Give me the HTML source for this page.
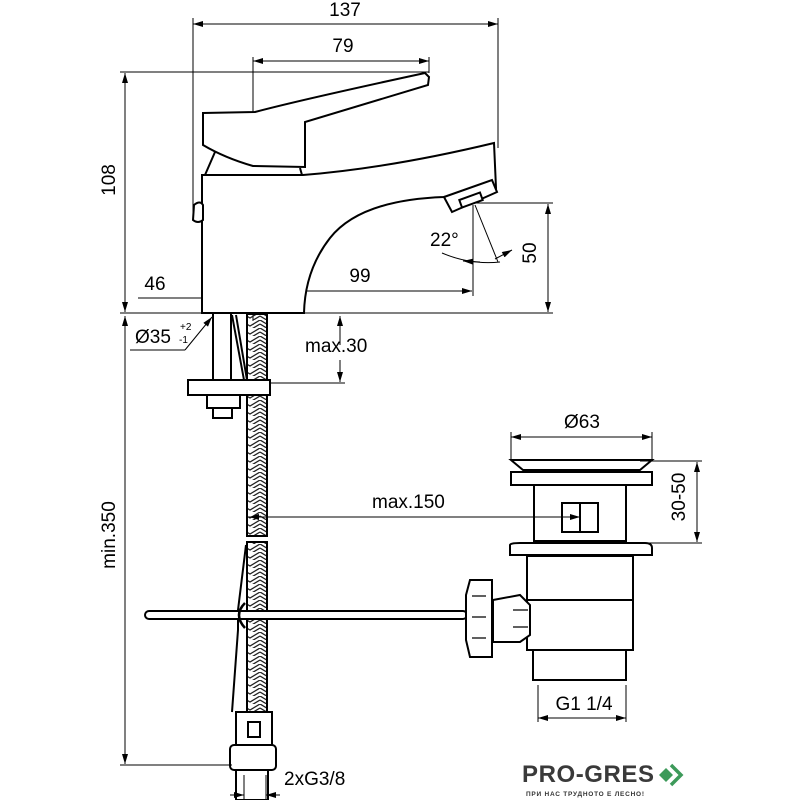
<!DOCTYPE html>
<html><head><style>body{margin:0;background:#fff}svg{display:block}text{font-family:"Liberation Sans",sans-serif;fill:#000}</style></head><body>
<svg width="800" height="800" viewBox="0 0 800 800" xmlns="http://www.w3.org/2000/svg">
<defs>
<marker id="a" viewBox="0 0 10 6" refX="10" refY="3" markerWidth="14" markerHeight="6" markerUnits="userSpaceOnUse" orient="auto-start-reverse"><path d="M0,0L10,3L0,6z" fill="#000"/></marker>
<pattern id="h" width="20" height="8" patternUnits="userSpaceOnUse"><path d="M0,0L10,6L20,0M0,4L10,10L20,4" stroke="#222" stroke-width="1.3" fill="none"/></pattern>
</defs>
<g stroke="#000" stroke-width="1" fill="none">
<line x1="193" y1="24" x2="498" y2="24" marker-start="url(#a)" marker-end="url(#a)"/>
<line x1="193" y1="18" x2="193" y2="220"/><line x1="498" y1="18" x2="498" y2="148"/>
<line x1="253" y1="61" x2="429" y2="61" marker-start="url(#a)" marker-end="url(#a)"/>
<line x1="253" y1="57" x2="253" y2="112"/><line x1="429" y1="57" x2="429" y2="73"/>
<line x1="120" y1="72" x2="429" y2="72"/>
<line x1="125" y1="73" x2="125" y2="312" marker-start="url(#a)" marker-end="url(#a)"/>
<line x1="120" y1="313" x2="553" y2="313"/>
<line x1="548" y1="204" x2="548" y2="312" marker-start="url(#a)" marker-end="url(#a)"/>
<line x1="475" y1="203" x2="553" y2="203"/>
<line x1="473" y1="205" x2="473" y2="296"/>
<line x1="253" y1="291" x2="472" y2="291" marker-start="url(#a)" marker-end="url(#a)"/>
<line x1="253" y1="288" x2="253" y2="325" stroke-dasharray="6,3"/>
<line x1="138" y1="298" x2="303" y2="298"/>
<line x1="222" y1="298" x2="203" y2="298" marker-end="url(#a)"/>
<line x1="284" y1="298" x2="303" y2="298" marker-end="url(#a)"/>
<line x1="475" y1="205" x2="498" y2="262"/>
<path d="M442,253 Q470,265 500,262"/>
<line x1="480" y1="262" x2="463" y2="261" marker-end="url(#a)"/>
<line x1="495" y1="259" x2="512" y2="250" marker-end="url(#a)"/>
<g stroke-width="2">
<path d="M202,175 L303,175 Q390,168 494,143 L496,188 L444,197 Q360,200 330,238 Q305,270 304,313 L202,313 Z" fill="#fff"/>
<path d="M444,197 L492,180 L497,192 L452,212 Z" fill="#fff"/>
<rect x="460" y="196" width="22" height="8" transform="rotate(-20 471 200)" fill="#fff"/>
<path d="M205,175 L215,152 M300,168 L302,175"/>
<path d="M203,113 L255,112 Q300,100 425,73 L429,77 L428,85 L305,122 L305,167 L253,166 Q225,158 203,145 Z" fill="#fff"/>
<path d="M194,205 Q200,200 203,205 L203,220 Q198,224 193,220 Z" fill="#fff"/>
<path d="M213,314 L213,380 M231,314 L231,380 M232,315 L244,380 M236,315 L247,380"/>
<rect x="247" y="314" width="20" height="222" fill="url(#h)"/>
<rect x="247" y="542" width="20" height="170" fill="url(#h)"/>
<rect x="188" y="380" width="82" height="15" fill="#fff"/>
<path d="M207,395 L207,408 L240,408 L240,395 M213,408 L213,418 L232,418 L232,408"/>
<path d="M246,545 L238,610 L238,630 L232,712"/>
<rect x="236" y="712" width="36" height="33" fill="#fff"/>
<rect x="248" y="722" width="12" height="15"/>
<rect x="230" y="745" width="46" height="25" rx="4" fill="#fff"/>
<rect x="236" y="770" width="32" height="30"/>
<rect x="145" y="611" width="322" height="8" rx="4" fill="#fff"/>
<path d="M245,603 Q233,615 245,628" stroke-width="2.5"/>
<path d="M511,460 L652,460 L640,470 L523,470 Z" fill="#fff"/>
<rect x="511" y="472" width="141" height="13" fill="#fff"/>
<rect x="534" y="485" width="92" height="56" fill="#fff"/>
<rect x="562" y="503" width="36" height="29"/>
<line x1="580" y1="503" x2="580" y2="532"/>
<path d="M510,545 Q510,543 520,543 L645,543 Q652,543 652,548 L652,555 L510,555 Z" fill="#fff"/>
<rect x="527" y="556" width="106" height="94" fill="#fff"/>
<line x1="527" y1="600" x2="633" y2="600"/>
<rect x="533" y="650" width="93" height="30" fill="#fff"/>
<path d="M493,600 L520,595 L530,605 L530,635 L520,642 L493,642 Z" fill="#fff"/>
<path d="M470,580 L492,580 L492,657 L470,657 L466,640 L466,595 Z" fill="#fff"/>
<path d="M472,596 L486,596 M472,617 L486,617 M472,638 L486,638 M513,610 L528,610 M513,627 L528,627" stroke-width="1.2"/>
</g>
<line x1="511" y1="437" x2="652" y2="437" marker-start="url(#a)" marker-end="url(#a)"/>
<line x1="511" y1="432" x2="511" y2="460"/><line x1="652" y1="432" x2="652" y2="460"/>
<line x1="697" y1="462" x2="697" y2="542" marker-start="url(#a)" marker-end="url(#a)"/>
<line x1="640" y1="461" x2="702" y2="461"/><line x1="640" y1="543" x2="702" y2="543"/>
<line x1="268" y1="517" x2="580" y2="517"/>
<line x1="268" y1="517" x2="249" y2="517" marker-end="url(#a)"/>
<line x1="565" y1="517" x2="580" y2="517" marker-end="url(#a)"/>
<line x1="538" y1="685" x2="538" y2="722"/><line x1="626" y1="685" x2="626" y2="722"/>
<line x1="538" y1="718" x2="626" y2="718" marker-start="url(#a)" marker-end="url(#a)"/>
<line x1="340" y1="345" x2="340" y2="316" marker-end="url(#a)"/>
<line x1="340" y1="360" x2="340" y2="382" marker-end="url(#a)"/>
<line x1="270" y1="383" x2="345" y2="383"/>
<line x1="125" y1="316" x2="125" y2="764" marker-start="url(#a)" marker-end="url(#a)"/>
<line x1="120" y1="765" x2="232" y2="765"/>
<line x1="130" y1="350" x2="185" y2="350"/><line x1="185" y1="350" x2="212" y2="317" marker-end="url(#a)"/>
<line x1="244" y1="775" x2="244" y2="800"/><line x1="266" y1="775" x2="266" y2="800"/>
<line x1="230" y1="795" x2="244" y2="795" marker-end="url(#a)"/>
<line x1="280" y1="795" x2="266" y2="795" marker-end="url(#a)"/>
</g>
<g font-size="19">
<text x="345" y="16" text-anchor="middle">137</text>
<text x="343" y="52" text-anchor="middle">79</text>
<text x="360" y="282" text-anchor="middle">99</text>
<text x="155" y="290" text-anchor="middle">46</text>
<text x="430" y="246">22°</text>
<text x="120" y="185" text-anchor="middle" transform="rotate(-90 115 185)">108</text>
<text x="541" y="258" text-anchor="middle" transform="rotate(-90 536 258)">50</text>
<text x="135" y="343">Ø35</text>
<text x="180" y="330" font-size="10">+2</text>
<text x="179" y="343" font-size="10">-1</text>
<text x="305" y="352">max.30</text>
<text x="582" y="428" text-anchor="middle">Ø63</text>
<text x="372" y="508">max.150</text>
<text x="690" y="502" text-anchor="middle" transform="rotate(-90 685 502)">30-50</text>
<text x="584" y="710" text-anchor="middle">G1 1/4</text>
<text x="120" y="540" text-anchor="middle" transform="rotate(-90 115 540)">min.350</text>
<text x="284" y="785">2xG3/8</text>
</g>
<text x="522" y="782" font-size="24" font-weight="bold" textLength="132" style="fill:#3a3a3a">PRO-GRES</text>
<text x="526" y="796" font-size="6.5" font-weight="bold" textLength="118" style="fill:#333">ПРИ НАС ТРУДНОТО Е ЛЕСНО!</text>
<path d="M659,775 L666,768 L673,775 L666,782Z" fill="#3d9a5a"/>
<path d="M671,765 L681,775 L671,785" stroke="#3d9a5a" stroke-width="3.5" fill="none"/>
</svg>
</body></html>
